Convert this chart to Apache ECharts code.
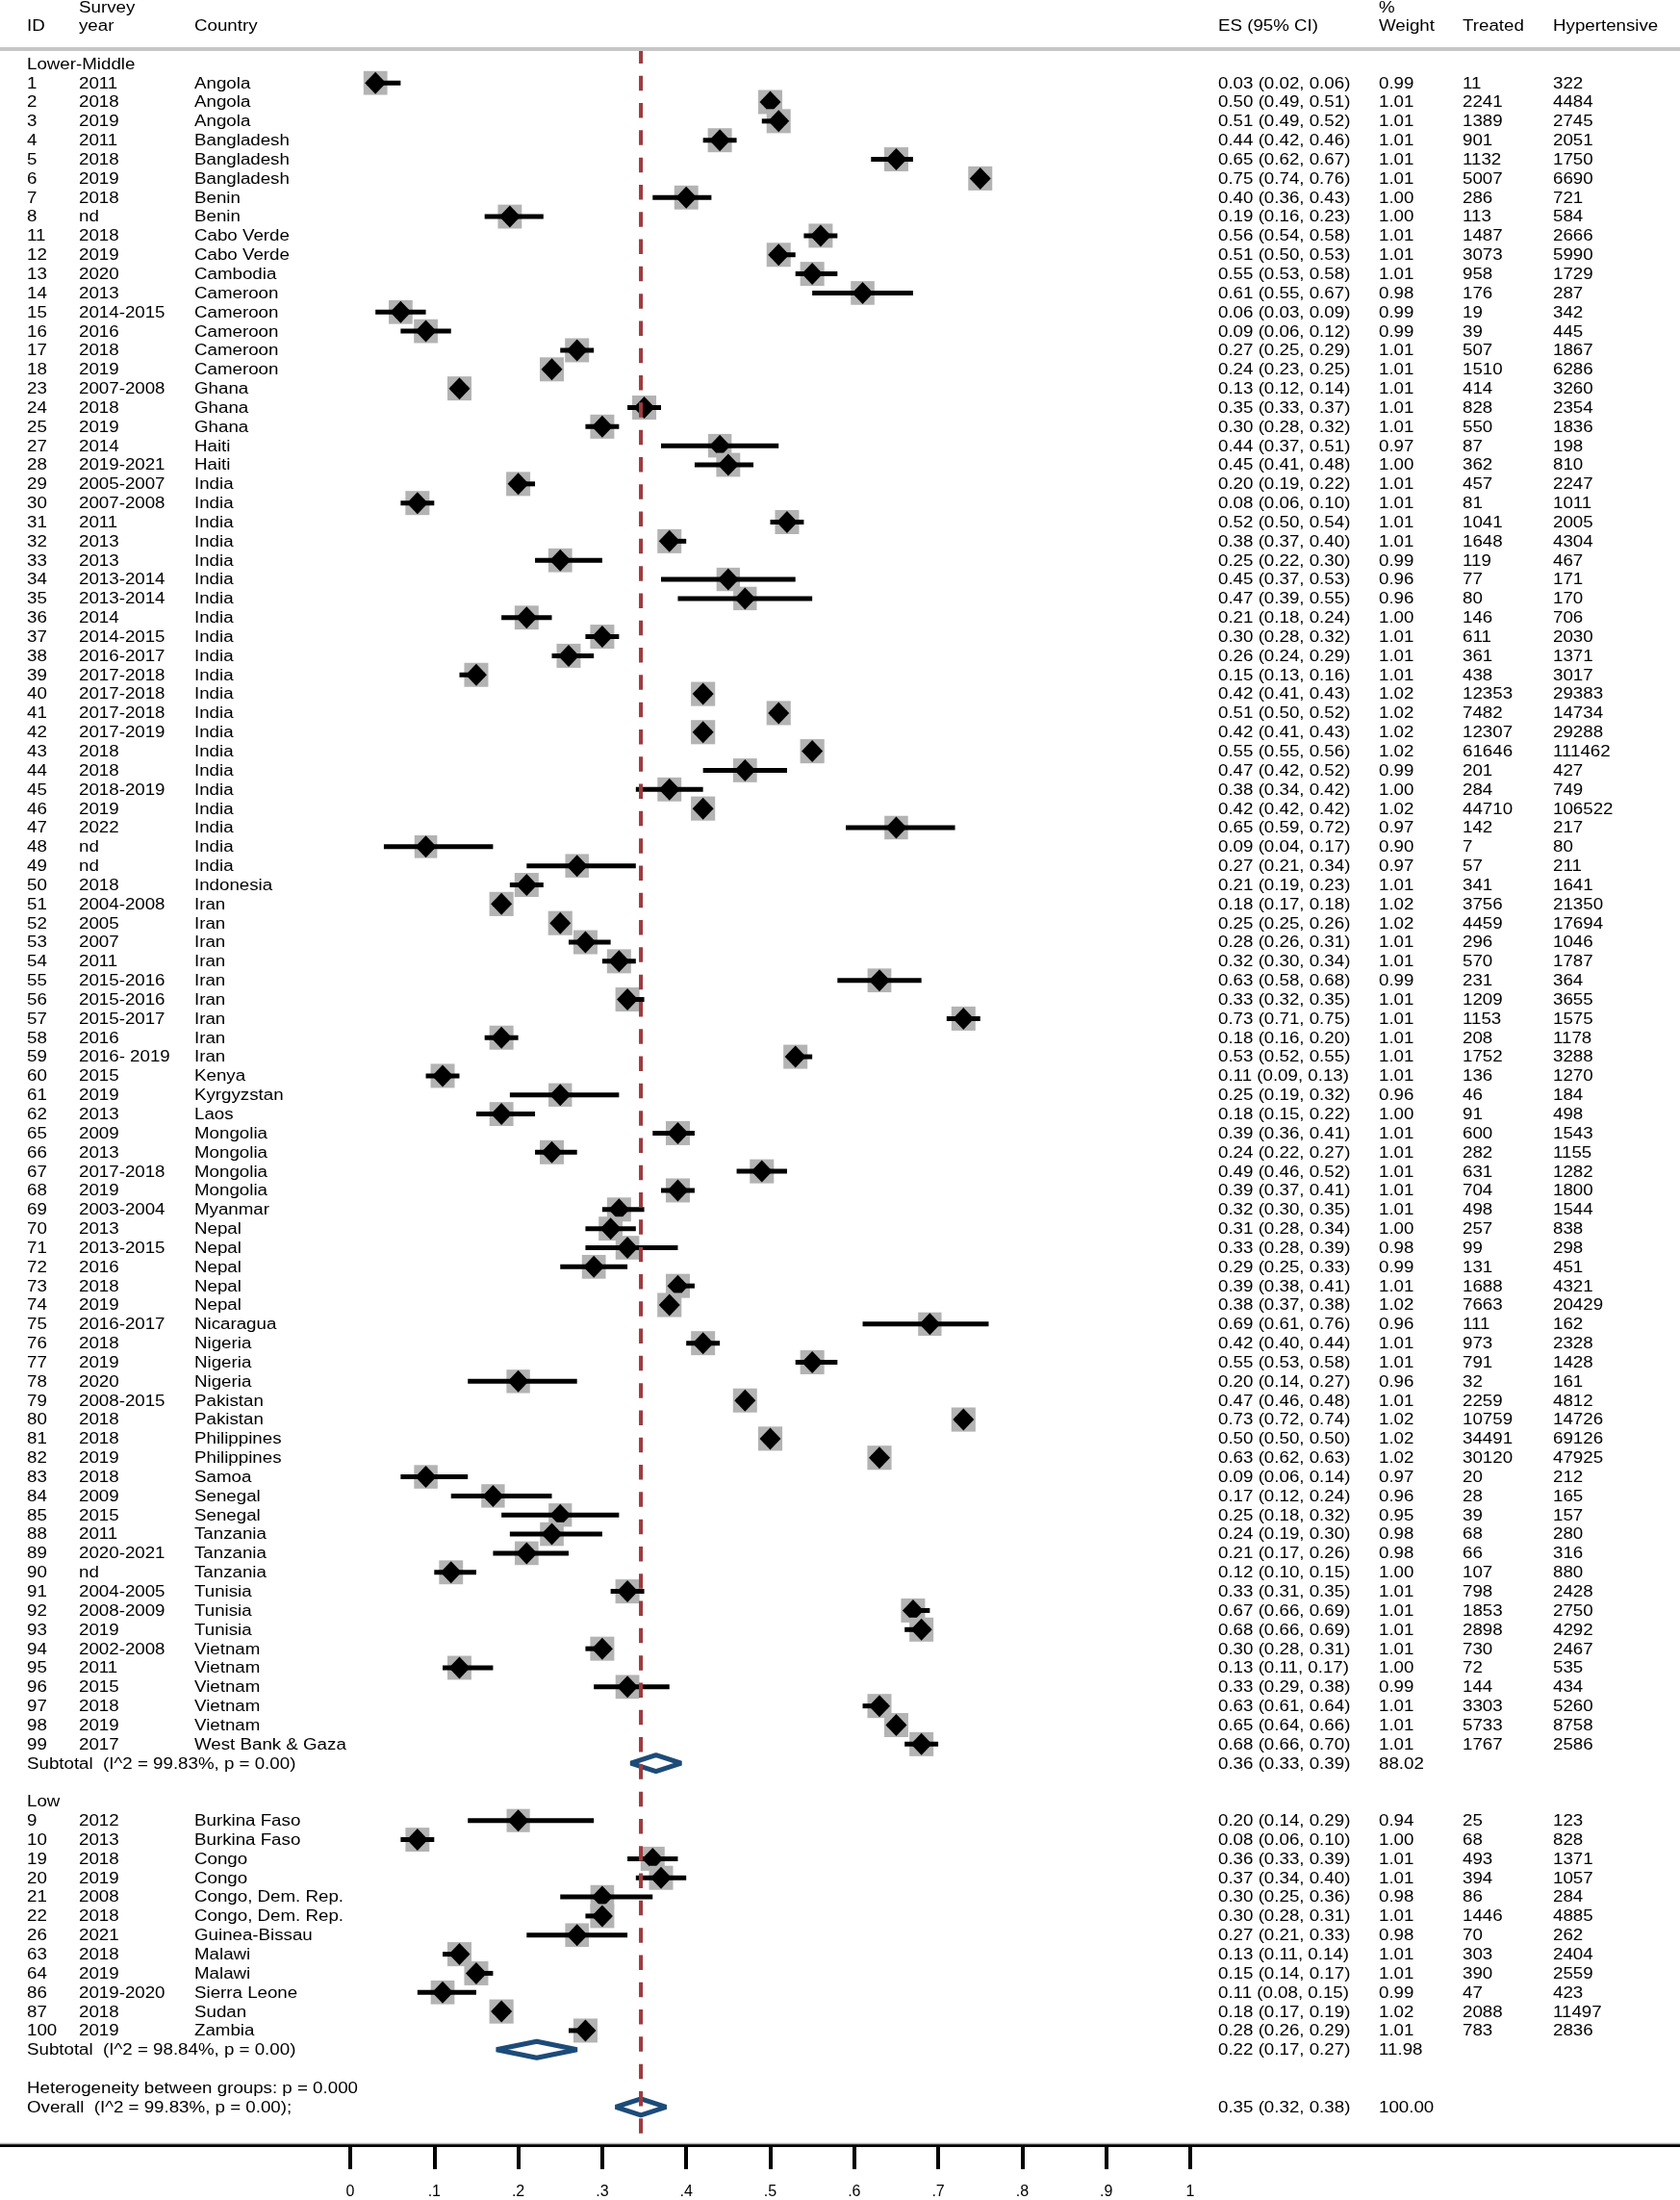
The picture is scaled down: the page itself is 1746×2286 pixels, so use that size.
<!DOCTYPE html>
<html>
<head>
<meta charset="utf-8">
<title>Forest plot</title>
<script src="https://cdn.jsdelivr.net/npm/echarts@6/dist/echarts.min.js"></script>
<style>
  html, body { margin: 0; padding: 0; background: #fff; }
  #chart { width: 1746px; height: 2286px; }
</style>
</head>
<body>
<div id="chart"></div>
<script>
// groups, in display order: first 88 studies are Lower-Middle, last 12 are Low
const groupNames = ['Lower-Middle', 'Low']
const groupSizes = [88, 12]

const studyIds = [
  1, 2, 3, 4, 5, 6, 7, 8, 11, 12, 13, 14, 15, 16, 17, 18, 23, 24, 25,
  27, 28, 29, 30, 31, 32, 33, 34, 35, 36, 37, 38, 39, 40, 41, 42, 43, 44, 45, 46, 47, 48, 49,
  50, 51, 52, 53, 54, 55, 56, 57, 58, 59, 60, 61, 62,
  65, 66, 67, 68, 69, 70, 71, 72, 73, 74, 75, 76, 77, 78, 79, 80, 81, 82, 83, 84, 85,
  88, 89, 90, 91, 92, 93, 94, 95, 96, 97, 98, 99,
  9, 10, 19, 20, 21, 22, 26, 63, 64, 86, 87, 100
]
const surveyYears = [
  '2011', '2018', '2019', '2011', '2018', '2019', '2018', 'nd',
  '2018', '2019', '2020', '2013', '2014-2015', '2016', '2018', '2019',
  '2007-2008', '2018', '2019',
  '2014', '2019-2021', '2005-2007', '2007-2008', '2011', '2013', '2013', '2013-2014', '2013-2014',
  '2014', '2014-2015', '2016-2017', '2017-2018', '2017-2018', '2017-2018', '2017-2019', '2018',
  '2018', '2018-2019', '2019', '2022', 'nd', 'nd',
  '2018', '2004-2008', '2005', '2007', '2011', '2015-2016', '2015-2016', '2015-2017', '2016',
  '2016- 2019', '2015', '2019', '2013',
  '2009', '2013', '2017-2018', '2019', '2003-2004', '2013', '2013-2015', '2016', '2018', '2019',
  '2016-2017', '2018', '2019', '2020', '2008-2015', '2018', '2018', '2019', '2018', '2009', '2015',
  '2011', '2020-2021', 'nd', '2004-2005', '2008-2009', '2019', '2002-2008', '2011', '2015', '2018',
  '2019', '2017',
  '2012', '2013', '2018', '2019', '2008', '2018', '2021', '2018', '2019', '2019-2020', '2018', '2019'
]
const countries = [
  'Angola', 'Angola', 'Angola', 'Bangladesh', 'Bangladesh', 'Bangladesh', 'Benin', 'Benin',
  'Cabo Verde', 'Cabo Verde', 'Cambodia', 'Cameroon', 'Cameroon', 'Cameroon', 'Cameroon', 'Cameroon',
  'Ghana', 'Ghana', 'Ghana',
  'Haiti', 'Haiti', 'India', 'India', 'India', 'India', 'India', 'India', 'India',
  'India', 'India', 'India', 'India', 'India', 'India', 'India', 'India',
  'India', 'India', 'India', 'India', 'India', 'India',
  'Indonesia', 'Iran', 'Iran', 'Iran', 'Iran', 'Iran', 'Iran', 'Iran', 'Iran',
  'Iran', 'Kenya', 'Kyrgyzstan', 'Laos',
  'Mongolia', 'Mongolia', 'Mongolia', 'Mongolia', 'Myanmar', 'Nepal', 'Nepal', 'Nepal', 'Nepal', 'Nepal',
  'Nicaragua', 'Nigeria', 'Nigeria', 'Nigeria', 'Pakistan', 'Pakistan', 'Philippines', 'Philippines',
  'Samoa', 'Senegal', 'Senegal',
  'Tanzania', 'Tanzania', 'Tanzania', 'Tunisia', 'Tunisia', 'Tunisia', 'Vietnam', 'Vietnam', 'Vietnam',
  'Vietnam', 'Vietnam', 'West Bank & Gaza',
  'Burkina Faso', 'Burkina Faso', 'Congo', 'Congo', 'Congo, Dem. Rep.', 'Congo, Dem. Rep.',
  'Guinea-Bissau', 'Malawi', 'Malawi', 'Sierra Leone', 'Sudan', 'Zambia'
]
const esValues = [
  0.03, 0.50, 0.51, 0.44, 0.65, 0.75, 0.40, 0.19,
  0.56, 0.51, 0.55, 0.61, 0.06, 0.09, 0.27, 0.24,
  0.13, 0.35, 0.30,
  0.44, 0.45, 0.20, 0.08, 0.52, 0.38, 0.25, 0.45, 0.47,
  0.21, 0.30, 0.26, 0.15, 0.42, 0.51, 0.42, 0.55,
  0.47, 0.38, 0.42, 0.65, 0.09, 0.27,
  0.21, 0.18, 0.25, 0.28, 0.32, 0.63, 0.33, 0.73, 0.18,
  0.53, 0.11, 0.25, 0.18,
  0.39, 0.24, 0.49, 0.39, 0.32, 0.31, 0.33, 0.29, 0.39, 0.38,
  0.69, 0.42, 0.55, 0.20, 0.47, 0.73, 0.50, 0.63, 0.09, 0.17, 0.25,
  0.24, 0.21, 0.12, 0.33, 0.67, 0.68, 0.30, 0.13, 0.33, 0.63, 0.65, 0.68,
  0.20, 0.08, 0.36, 0.37, 0.30, 0.30, 0.27, 0.13, 0.15, 0.11, 0.18, 0.28
]
const ciLower = [
  0.02, 0.49, 0.49, 0.42, 0.62, 0.74, 0.36, 0.16,
  0.54, 0.50, 0.53, 0.55, 0.03, 0.06, 0.25, 0.23,
  0.12, 0.33, 0.28,
  0.37, 0.41, 0.19, 0.06, 0.50, 0.37, 0.22, 0.37, 0.39,
  0.18, 0.28, 0.24, 0.13, 0.41, 0.50, 0.41, 0.55,
  0.42, 0.34, 0.42, 0.59, 0.04, 0.21,
  0.19, 0.17, 0.25, 0.26, 0.30, 0.58, 0.32, 0.71, 0.16,
  0.52, 0.09, 0.19, 0.15,
  0.36, 0.22, 0.46, 0.37, 0.30, 0.28, 0.28, 0.25, 0.38, 0.37,
  0.61, 0.40, 0.53, 0.14, 0.46, 0.72, 0.50, 0.62, 0.06, 0.12, 0.18,
  0.19, 0.17, 0.10, 0.31, 0.66, 0.66, 0.28, 0.11, 0.29, 0.61, 0.64, 0.66,
  0.14, 0.06, 0.33, 0.34, 0.25, 0.28, 0.21, 0.11, 0.14, 0.08, 0.17, 0.26
]
const ciUpper = [
  0.06, 0.51, 0.52, 0.46, 0.67, 0.76, 0.43, 0.23,
  0.58, 0.53, 0.58, 0.67, 0.09, 0.12, 0.29, 0.25,
  0.14, 0.37, 0.32,
  0.51, 0.48, 0.22, 0.10, 0.54, 0.40, 0.30, 0.53, 0.55,
  0.24, 0.32, 0.29, 0.16, 0.43, 0.52, 0.43, 0.56,
  0.52, 0.42, 0.42, 0.72, 0.17, 0.34,
  0.23, 0.18, 0.26, 0.31, 0.34, 0.68, 0.35, 0.75, 0.20,
  0.55, 0.13, 0.32, 0.22,
  0.41, 0.27, 0.52, 0.41, 0.35, 0.34, 0.39, 0.33, 0.41, 0.38,
  0.76, 0.44, 0.58, 0.27, 0.48, 0.74, 0.50, 0.63, 0.14, 0.24, 0.32,
  0.30, 0.26, 0.15, 0.35, 0.69, 0.69, 0.31, 0.17, 0.38, 0.64, 0.66, 0.70,
  0.29, 0.10, 0.39, 0.40, 0.36, 0.31, 0.33, 0.14, 0.17, 0.15, 0.19, 0.29
]
const weights = [
  0.99, 1.01, 1.01, 1.01, 1.01, 1.01, 1.00, 1.00,
  1.01, 1.01, 1.01, 0.98, 0.99, 0.99, 1.01, 1.01,
  1.01, 1.01, 1.01,
  0.97, 1.00, 1.01, 1.01, 1.01, 1.01, 0.99, 0.96, 0.96,
  1.00, 1.01, 1.01, 1.01, 1.02, 1.02, 1.02, 1.02,
  0.99, 1.00, 1.02, 0.97, 0.90, 0.97,
  1.01, 1.02, 1.02, 1.01, 1.01, 0.99, 1.01, 1.01, 1.01,
  1.01, 1.01, 0.96, 1.00,
  1.01, 1.01, 1.01, 1.01, 1.01, 1.00, 0.98, 0.99, 1.01, 1.02,
  0.96, 1.01, 1.01, 0.96, 1.01, 1.02, 1.02, 1.02, 0.97, 0.96, 0.95,
  0.98, 0.98, 1.00, 1.01, 1.01, 1.01, 1.01, 1.00, 0.99, 1.01, 1.01, 1.01,
  0.94, 1.00, 1.01, 1.01, 0.98, 1.01, 0.98, 1.01, 1.01, 0.99, 1.02, 1.01
]
const treated = [
  11, 2241, 1389, 901, 1132, 5007, 286, 113,
  1487, 3073, 958, 176, 19, 39, 507, 1510,
  414, 828, 550,
  87, 362, 457, 81, 1041, 1648, 119, 77, 80,
  146, 611, 361, 438, 12353, 7482, 12307, 61646,
  201, 284, 44710, 142, 7, 57,
  341, 3756, 4459, 296, 570, 231, 1209, 1153, 208,
  1752, 136, 46, 91,
  600, 282, 631, 704, 498, 257, 99, 131, 1688, 7663,
  111, 973, 791, 32, 2259, 10759, 34491, 30120, 20, 28, 39,
  68, 66, 107, 798, 1853, 2898, 730, 72, 144, 3303, 5733, 1767,
  25, 68, 493, 394, 86, 1446, 70, 303, 390, 47, 2088, 783
]
const hypertensive = [
  322, 4484, 2745, 2051, 1750, 6690, 721, 584,
  2666, 5990, 1729, 287, 342, 445, 1867, 6286,
  3260, 2354, 1836,
  198, 810, 2247, 1011, 2005, 4304, 467, 171, 170,
  706, 2030, 1371, 3017, 29383, 14734, 29288, 111462,
  427, 749, 106522, 217, 80, 211,
  1641, 21350, 17694, 1046, 1787, 364, 3655, 1575, 1178,
  3288, 1270, 184, 498,
  1543, 1155, 1282, 1800, 1544, 838, 298, 451, 4321, 20429,
  162, 2328, 1428, 161, 4812, 14726, 69126, 47925, 212, 165, 157,
  280, 316, 880, 2428, 2750, 4292, 2467, 535, 434, 5260, 8758, 2586,
  123, 828, 1371, 1057, 284, 4885, 262, 2404, 2559, 423, 11497, 2836
]

// pooled estimates
const subtotalLabels = ['Subtotal  (I^2 = 99.83%, p = 0.00)', 'Subtotal  (I^2 = 98.84%, p = 0.00)']
const subtotalEs = [0.364, 0.222]
const subtotalLo = [0.334, 0.174]
const subtotalHi = [0.394, 0.270]
const subtotalWeight = [88.02, 11.98]
const heterogeneityLabel = 'Heterogeneity between groups: p = 0.000'
const overallLabel = 'Overall  (I^2 = 99.83%, p = 0.00);'
const overall = [0.346, 0.316, 0.376]   // es, lower, upper
const overallWeight = 100
const xTicks = [0, 0.1, 0.2, 0.3, 0.4, 0.5, 0.6, 0.7, 0.8, 0.9, 1]

// layout
const FONT_FAMILY = '"Liberation Sans", Arial, Helvetica, sans-serif'
const FONT_SIZE = 16
const STRETCH = 1.17   // stata text is wider than arial
const TEXT_DY = 1
const colX = { id: 28, year: 82, country: 202, es: 1266, weight: 1433, treated: 1520, hyper: 1614 }
const BLUE = '#1d4b78'
const RED = '#9e3a3e'

function ciText (es, lo, hi) {
  return es.toFixed(2) + ' (' + lo.toFixed(2) + ', ' + hi.toFixed(2) + ')'
}

// build rows
const tableRows = []
const studyPoints = []
const diamondPoints = []
let k = 0
let start = 0
groupNames.forEach((g, gi) => {
  tableRows.push({ k: k++, cells: [[colX.id, g]] })
  for (let i = start; i < start + groupSizes[gi]; i++) {
    studyPoints.push([esValues[i], k, ciLower[i], ciUpper[i], weights[i]])
    tableRows.push({
      k: k,
      cells: [
        [colX.id, String(studyIds[i])],
        [colX.year, surveyYears[i]],
        [colX.country, countries[i]],
        [colX.es, ciText(esValues[i], ciLower[i], ciUpper[i])],
        [colX.weight, weights[i].toFixed(2)],
        [colX.treated, String(treated[i])],
        [colX.hyper, String(hypertensive[i])]
      ]
    })
    k++
  }
  start += groupSizes[gi]
  diamondPoints.push([subtotalEs[gi], k, subtotalLo[gi], subtotalHi[gi]])
  tableRows.push({
    k: k++,
    cells: [
      [colX.id, subtotalLabels[gi]],
      [colX.es, ciText(subtotalEs[gi], subtotalLo[gi], subtotalHi[gi])],
      [colX.weight, subtotalWeight[gi].toFixed(2)]
    ]
  })
  k++ // blank line
})
tableRows.push({ k: k++, cells: [[colX.id, heterogeneityLabel]] })
diamondPoints.push([overall[0], k, overall[1], overall[2]])
tableRows.push({
  k: k,
  cells: [
    [colX.id, overallLabel],
    [colX.es, ciText(overall[0], overall[1], overall[2])],
    [colX.weight, overallWeight.toFixed(2)]
  ]
})

function textEl (x, y, text) {
  return {
    type: 'text',
    x: x,
    y: y + TEXT_DY,
    scaleX: STRETCH,
    style: {
      text: text,
      fill: '#000',
      fontSize: FONT_SIZE,
      fontFamily: FONT_FAMILY,
      align: 'left',
      verticalAlign: 'middle',
      textAlign: 'left',
      textVerticalAlign: 'middle'
    }
  }
}

const chart = echarts.init(document.getElementById('chart'))
const option = {
  backgroundColor: '#fff',
  animation: false,
  grid: { left: 0, right: 0, top: 46.5, bottom: 56.4 },
  xAxis: {
    type: 'value',
    min: -0.41695,
    max: 1.58305,
    axisLine: { show: true, onZero: false, lineStyle: { color: '#000', width: 4 } },
    axisTick: { show: true, customValues: xTicks, length: 25, lineStyle: { color: '#000', width: 4 } },
    axisLabel: {
      customValues: xTicks,
      margin: 41,
      color: '#000',
      fontSize: FONT_SIZE,
      fontFamily: FONT_FAMILY,
      formatter: function (v) {
        if (v === 0) return '0'
        if (v === 1) return '1'
        return '.' + Math.round(v * 10)
      }
    },
    splitLine: { show: false }
  },
  yAxis: {
    type: 'value',
    inverse: true,
    min: -1,
    max: 109,
    show: false
  },
  graphic: [
    { type: 'line', z: 100, shape: { x1: 0, y1: 51, x2: 1746, y2: 51 }, style: { stroke: '#c6c6c6', lineWidth: 4 } },
    { type: 'line', z: 100, shape: { x1: 0, y1: 2227.6, x2: 1746, y2: 2227.6 }, style: { stroke: '#b0b0b0', lineWidth: 1.5 } },
    textEl(colX.year, 7.5, 'Survey'),
    textEl(colX.weight, 7.5, '%'),
    textEl(colX.id, 27, 'ID'),
    textEl(colX.year, 27, 'year'),
    textEl(colX.country, 27, 'Country'),
    textEl(colX.es, 27, 'ES (95% CI)'),
    textEl(colX.weight, 27, 'Weight'),
    textEl(colX.treated, 27, 'Treated'),
    textEl(colX.hyper, 27, 'Hypertensive')
  ],
  series: [
    {
      // study boxes, CI lines and point estimates
      type: 'custom',
      z: 3,
      data: studyPoints,
      renderItem: function (params, api) {
        const c = api.coord([api.value(0), api.value(1)])
        const l = api.coord([api.value(2), api.value(1)])
        const h = api.coord([api.value(3), api.value(1)])
        const s = 25 * Math.sqrt(api.value(4) / 1.01)
        return {
          type: 'group',
          children: [
            { type: 'rect', shape: { x: c[0] - s / 2, y: c[1] - s / 2, width: s, height: s }, style: { fill: '#b3b3b3' } },
            { type: 'line', shape: { x1: l[0], y1: c[1], x2: h[0], y2: c[1] }, style: { stroke: '#000', lineWidth: 5 } },
            {
              type: 'polygon',
              shape: { points: [[c[0] - 11, c[1]], [c[0], c[1] - 11.5], [c[0] + 11, c[1]], [c[0], c[1] + 11.5]] },
              style: { fill: '#000' }
            }
          ]
        }
      }
    },
    {
      // pooled diamonds
      type: 'custom',
      z: 4,
      data: diamondPoints,
      renderItem: function (params, api) {
        const c = api.coord([api.value(0), api.value(1)])
        const l = api.coord([api.value(2), api.value(1)])
        const h = api.coord([api.value(3), api.value(1)])
        return {
          type: 'polygon',
          shape: { points: [[l[0], c[1]], [c[0], c[1] - 8.5], [h[0], c[1]], [c[0], c[1] + 8.5]] },
          style: { fill: 'none', stroke: BLUE, lineWidth: 5, lineJoin: 'bevel' }
        }
      }
    },
    {
      // overall effect reference line
      type: 'line',
      z: 10,
      symbol: 'none',
      silent: true,
      data: [[overall[0], -0.8], [overall[0], 109]],
      lineStyle: { color: RED, width: 4, type: [15.5, 12.8] }
    },
    {
      // table text
      type: 'custom',
      z: 5,
      silent: true,
      data: tableRows.map(r => [0, r.k]),
      renderItem: function (params, api) {
        const row = tableRows[params.dataIndex]
        const y = api.coord([0, row.k])[1]
        return {
          type: 'group',
          children: row.cells.map(cell => textEl(cell[0], y, cell[1]))
        }
      }
    }
  ]
}
chart.setOption(option)

window.onresize = function () {
  chart.resize()
}
</script>
</body>
</html>
